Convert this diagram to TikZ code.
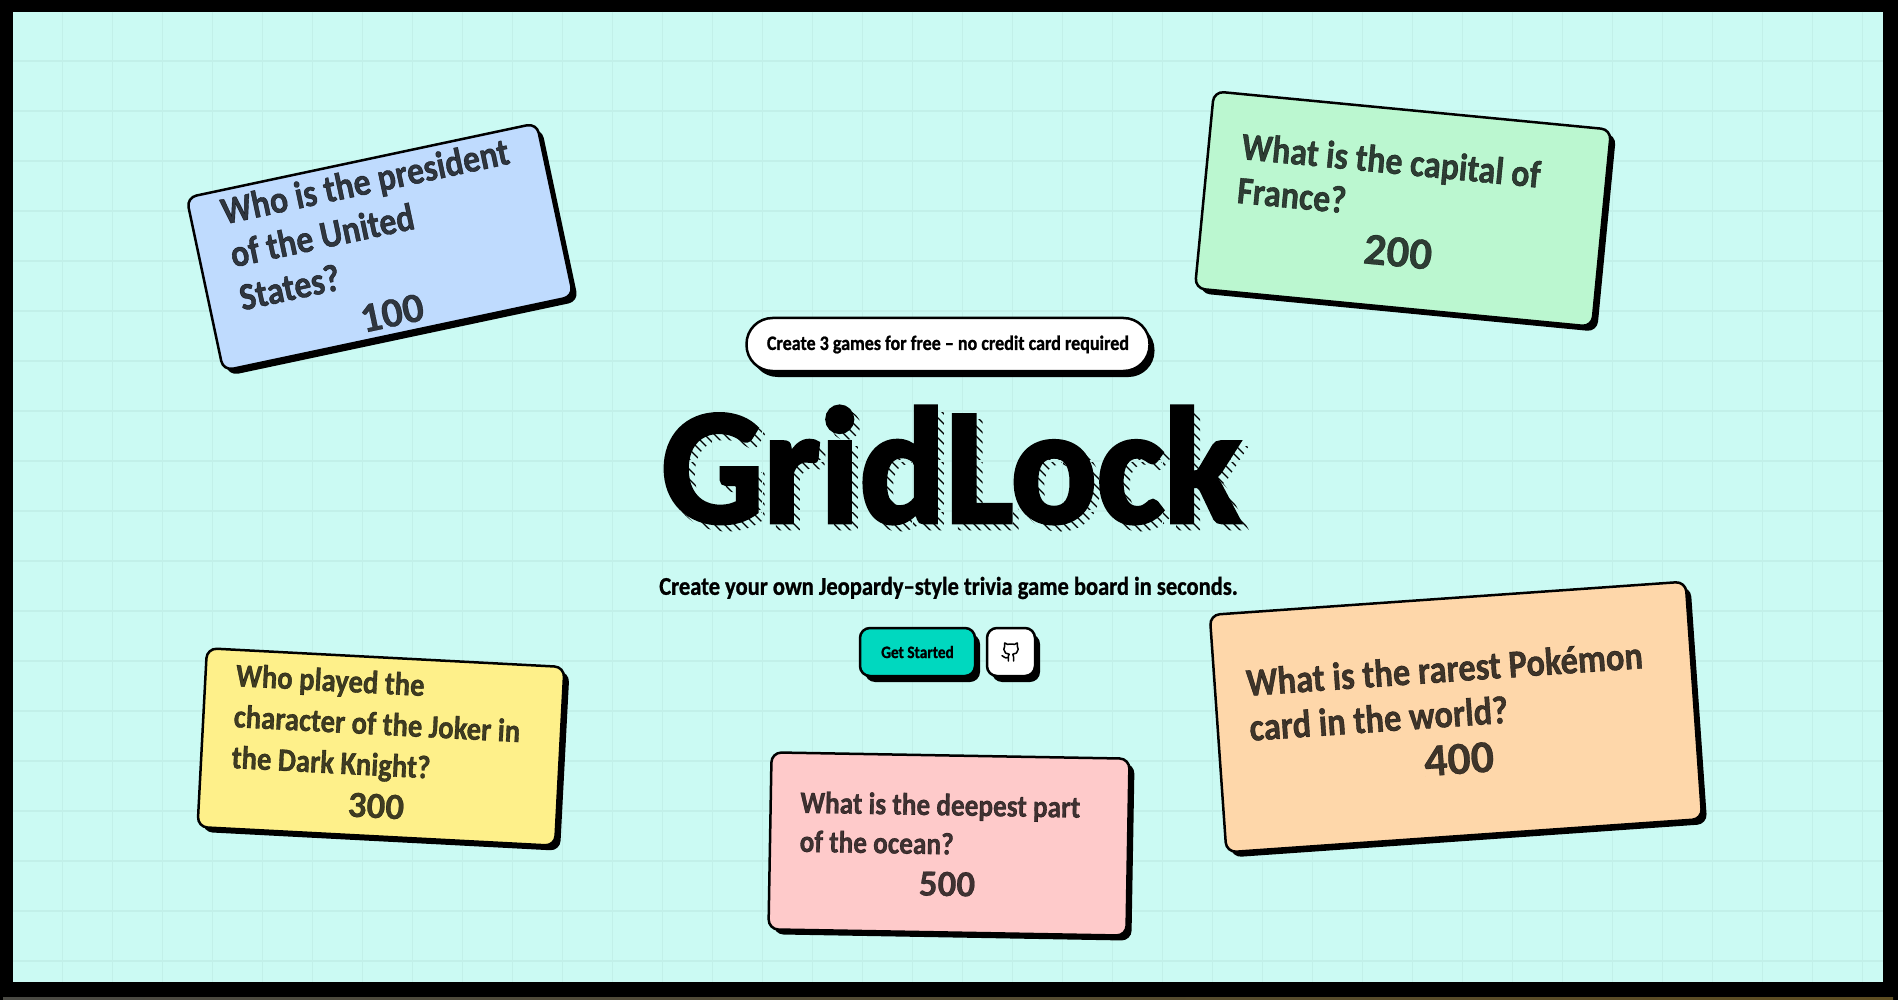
\documentclass[tikz,border=0pt]{standalone}
\usepackage{fontspec}
\usepackage{xcolor}
\usepackage{tikz}
\usetikzlibrary{shadows}
\setmainfont{Carlito}[FakeStretch=0.88, BoldFeatures={FakeBold=1}]
\newfontfamily\ptsfont{Carlito}[BoldFeatures={FakeBold=0.6}]
\newfontfamily\titlefont{Carlito}[FakeStretch=0.97, BoldFeatures={FakeBold=2.5}]
\definecolor{pagebg}{HTML}{CBFAF3}
\definecolor{gridline}{HTML}{C2F0E9}
\definecolor{cardblue}{HTML}{BFDBFE}
\definecolor{cardgreen}{HTML}{BBF7D0}
\definecolor{cardyellow}{HTML}{FEF08A}
\definecolor{cardpink}{HTML}{FECACA}
\definecolor{cardorange}{HTML}{FED7AA}
\definecolor{btnteal}{HTML}{00D8BF}
\definecolor{stripleft}{HTML}{4A4A44}
\definecolor{stripright}{HTML}{5E4E22}

\begin{document}
\begin{tikzpicture}[
    x=1pt, y=-1pt,
    card/.style={draw=black, line width=2.5pt, rounded corners=10pt, inner sep=0pt,
        drop shadow={shadow xshift=5pt, shadow yshift=-5pt, fill=black, opacity=1}},
    question/.style={align=left, inner sep=0pt, text=black, text opacity=0.75},
    points/.style={inner sep=0pt, text=black, text opacity=0.75},
    btn/.style={draw=black, line width=2.5pt, rounded corners=10pt, inner sep=0pt, font=\bfseries,
        drop shadow={shadow xshift=5pt, shadow yshift=-6pt, fill=black, opacity=1}},
    titletext/.style={inner sep=0pt, font=\titlefont\bfseries\fontsize{165}{165}\selectfont}
]
\useasboundingbox (0,0) rectangle (1898,1000);

\fill[black] (0,0) rectangle (1898,1000);
\shade[left color=stripleft, right color=stripright] (3,997) rectangle (1893,1000);
\fill[pagebg] (13,12) rectangle (1883,982);

\node (titleshadow) [titletext, text=black] at (957,471) {GridLock};
\begin{scope}
\clip (650,395) rectangle (1260,535);
\foreach \x in {500,510,...,1270}
    \draw[pagebg, line width=5.6pt] (\x,395) -- (\x+140,535);
\end{scope}

\begin{scope}
\clip (13,12) rectangle (1883,982);
\foreach \x in {62,112,...,1862}
    \draw[gridline, line width=1.2pt] (\x.5,12) -- (\x.5,982);
\foreach \y in {61,111,...,961}
    \draw[gridline, line width=1.2pt] (13,\y) -- (1883,\y);
\end{scope}

\node (bluecard) [card, fill=cardblue, rotate=12, minimum width=358, minimum height=177] at (380,247) {};
\node (greencard) [card, fill=cardgreen, rotate=-5.5, minimum width=399, minimum height=198] at (1403,209) {};
\node (yellowcard) [card, fill=cardyellow, rotate=-3, minimum width=358, minimum height=179] at (381,747) {};
\node (pinkcard) [card, fill=cardpink, rotate=-1, minimum width=358, minimum height=177] at (949,844) {};
\node (orangecard) [card, fill=cardorange, rotate=4, minimum width=477, minimum height=238] at (1456,717) {};

\node (blueq) [question, rotate=12, font=\bfseries\fontsize{38.6}{44}\selectfont] at (374,224) {Who is the president\\of the United\\States?};
\node (bluepts) [points, rotate=12, font=\ptsfont\bfseries\fontsize{42}{42}\selectfont] at (392,313) {100};
\node (greenq) [question, rotate=-5.5, font=\bfseries\fontsize{38.6}{44}\selectfont] at (1389,182) {What is the capital of\\France?};
\node (greenpts) [points, rotate=-5.5, font=\ptsfont\bfseries\fontsize{45}{45}\selectfont] at (1398,252) {200};
\node (yellowq) [question, rotate=-3, font=\bfseries\fontsize{32.6}{41}\selectfont] at (377,726) {Who played the\\character of the Joker in\\the Dark Knight?};
\node (yellowpts) [points, rotate=-3, font=\ptsfont\bfseries\fontsize{37}{37}\selectfont] at (376,806) {300};
\node (pinkq) [question, rotate=-1, font=\bfseries\fontsize{31}{39}\selectfont] at (940,824) {What is the deepest part\\of the ocean?};
\node (pinkpts) [points, rotate=-1, font=\ptsfont\bfseries\fontsize{37}{37}\selectfont] at (947,884) {500};
\node (orangeq) [question, rotate=4, font=\bfseries\fontsize{39.2}{45}\selectfont] at (1446,691) {What is the rarest Pok\'emon\\card in the world?};
\node (orangepts) [points, rotate=4, font=\ptsfont\bfseries\fontsize{46}{46}\selectfont] at (1459,759) {400};

\node (freepill) [btn, fill=white, rounded corners=26pt, minimum width=403, minimum height=53, font=\bfseries\fontsize{20.5}{20.5}\selectfont] at (948,344.5) {Create 3 games for free -- no credit card required};
\node (gridtitle) [titletext, text=black] at (951,465) {GridLock};
\node (tagline) [inner sep=0pt, font=\bfseries\fontsize{25.6}{25.6}\selectfont] at (948.5,588) {Create your own Jeopardy--style trivia game board in seconds.};
\node (startbtn) [btn, fill=btnteal, minimum width=115, minimum height=48, font=\bfseries\fontsize{17.4}{17.4}\selectfont] at (917.5,652) {Get Started};
\node (githubbtn) [btn, fill=white, minimum width=48, minimum height=48] at (1011,652) {};

\begin{scope}[shift={(1000.2,641.2)}, scale=0.9]
\draw[black, line width=1.5pt, line cap=round, line join=round]
    (15,22) -- (15,18) .. controls (15.1,16.7) and (14.8,15.5) .. (14,14.5)
    .. controls (17,14.5) and (20,12.5) .. (20,9)
    .. controls (20.08,7.75) and (19.73,6.52) .. (19,5.5)
    .. controls (19.28,4.35) and (19.28,3.15) .. (19,2)
    .. controls (19,2) and (18,2) .. (16,3.5)
    .. controls (13.36,3) and (10.64,3) .. (8,3.5)
    .. controls (6,2) and (5,2) .. (5,2)
    .. controls (4.7,3.15) and (4.7,4.35) .. (5,5.5)
    .. controls (4.35,6.5) and (4,7.7) .. (4,9)
    .. controls (4,12.5) and (7,14.5) .. (10,14.5)
    .. controls (9.61,14.99) and (9.32,15.55) .. (9.15,16.15)
    .. controls (8.98,16.75) and (8.93,17.38) .. (9,18) -- (9,22)
    (9,18) .. controls (4.49,20) and (4,16) .. (2,16);
\end{scope}
\end{tikzpicture}
\end{document}
